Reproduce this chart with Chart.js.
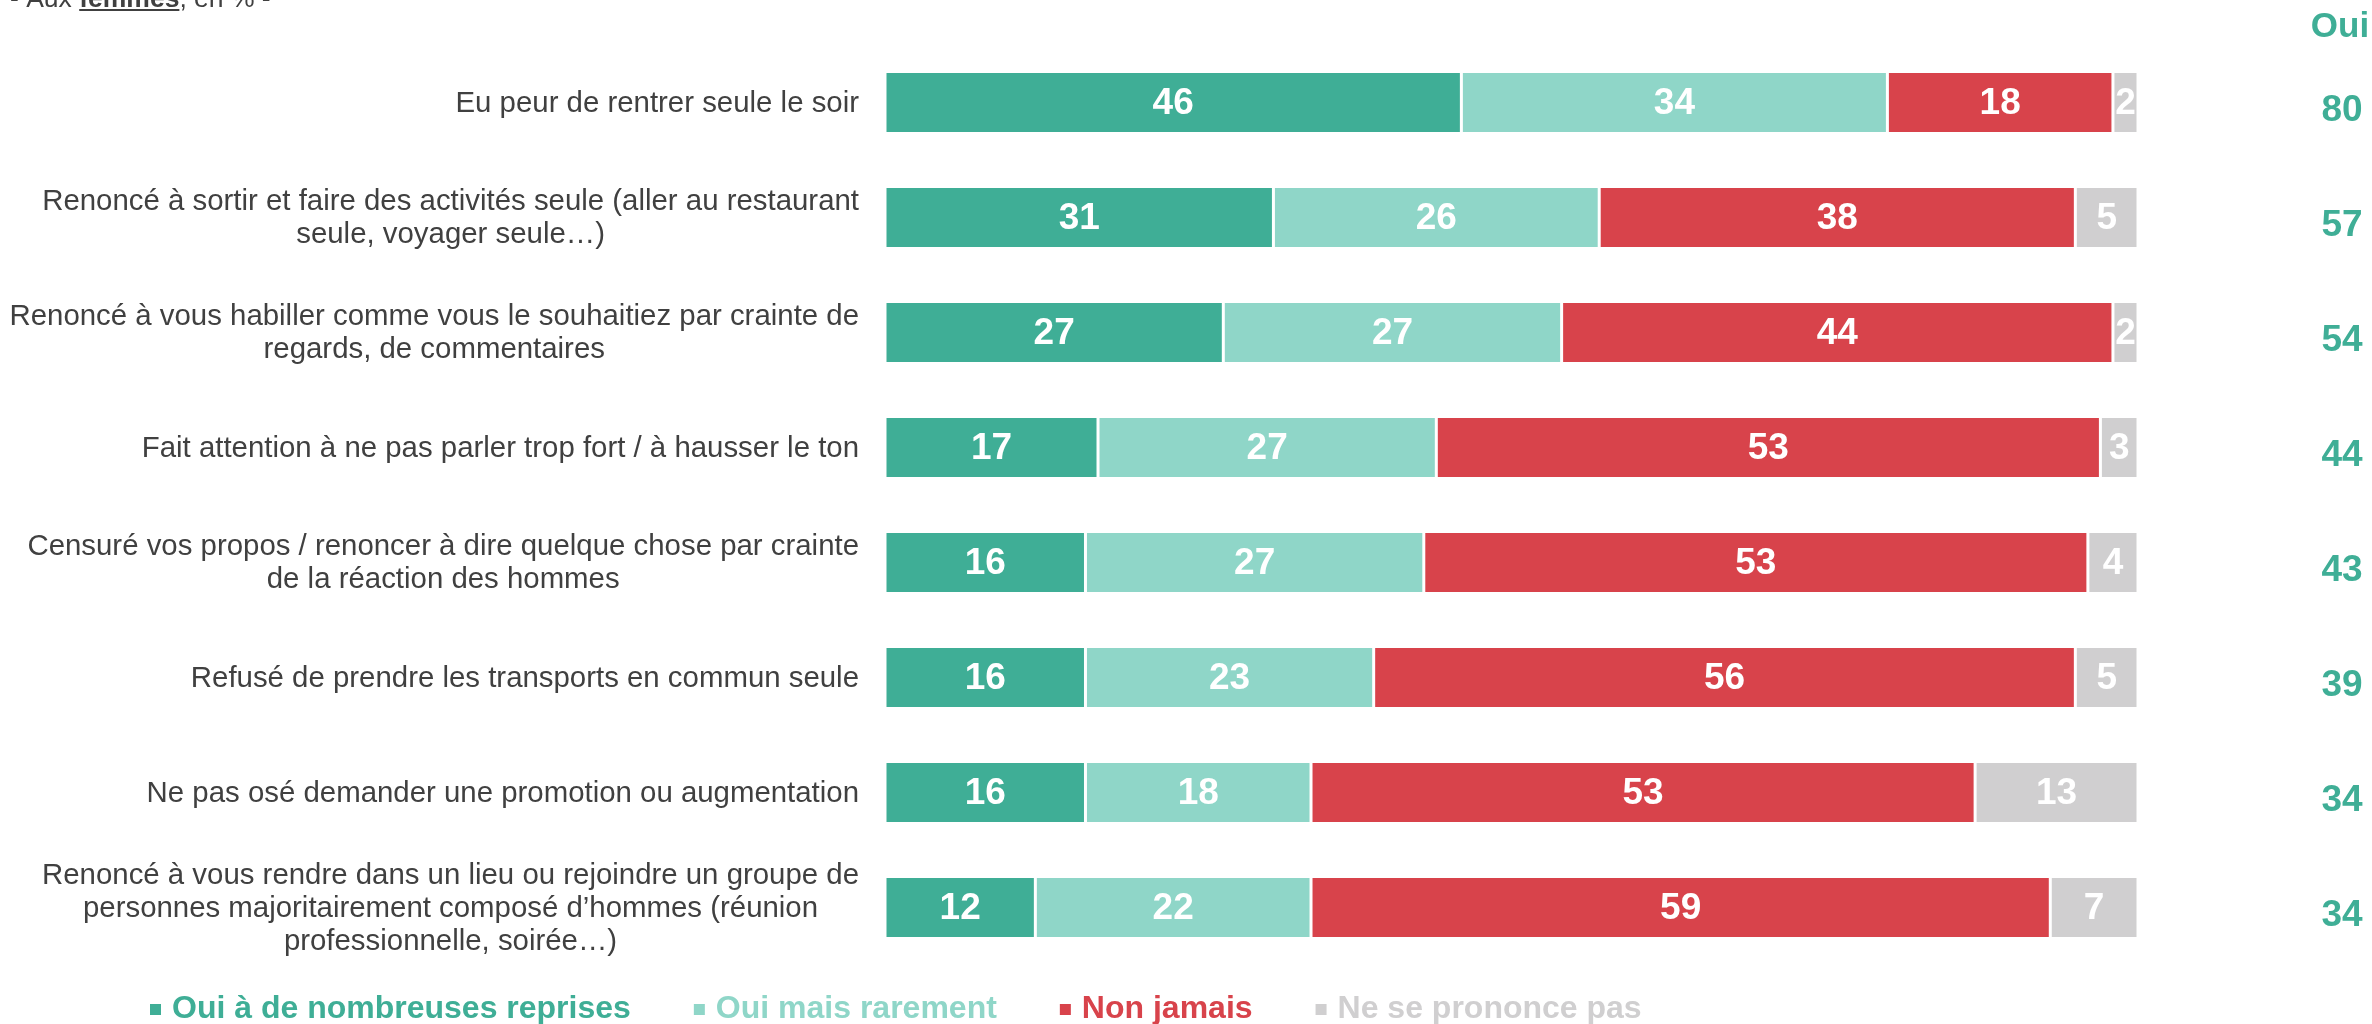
<!DOCTYPE html>
<html lang="fr">
<head>
    <meta charset="UTF-8">
    <title>Aux femmes, en %</title>
    <script src="https://cdn.jsdelivr.net/npm/chart.js"></script>
    <style>
        body {
            margin: 0;
            background: #fff;
            overflow: hidden;
        }
        canvas {
            display: block;
        }
    </style>
</head>
<body>

<canvas id="myChart" width="2372" height="1024"></canvas>

<script>
    // categories (one per line of the label)
    const categories = [
        ["Eu peur de rentrer seule le soir"],
        ["Renoncé à sortir et faire des activités seule (aller au restaurant", "seule, voyager seule…)"],
        ["Renoncé à vous habiller comme vous le souhaitiez par crainte de", "regards, de commentaires"],
        ["Fait attention à ne pas parler trop fort / à hausser le ton"],
        ["Censuré vos propos / renoncer à dire quelque chose par crainte", "de la réaction des hommes"],
        ["Refusé de prendre les transports en commun seule"],
        ["Ne pas osé demander une promotion ou augmentation"],
        ["Renoncé à vous rendre dans un lieu ou rejoindre un groupe de", "personnes majoritairement composé d’hommes (réunion", "professionnelle, soirée…)"]
    ];

    const seriesNames = ["Oui à de nombreuses reprises", "Oui mais rarement", "Non jamais", "Ne se prononce pas"];
    const seriesColors = ["#3FAE96", "#8FD6C8", "#D8434B", "#D0CFD0"];

    const ouiSouvent = [46, 31, 27, 17, 16, 16, 16, 12];
    const ouiRarement = [34, 26, 27, 27, 27, 23, 18, 22];
    const nonJamais = [18, 38, 44, 53, 53, 56, 53, 59];
    const nsp = [2, 5, 2, 3, 4, 5, 13, 7];

    const ouiTotal = [80, 57, 54, 44, 43, 39, 34, 34];

    const FONT = '"Liberation Sans", Arial, sans-serif';
    const TEXT_COLOR = '#404040';

    const seriesValues = [ouiSouvent, ouiRarement, nonJamais, nsp];

    const datasets = seriesValues.map((vals, i) => ({
        label: seriesNames[i],
        data: vals,
        backgroundColor: seriesColors[i],
        borderColor: '#ffffff',
        borderWidth: { left: 1.5, right: 1.5, top: 0, bottom: 0 },
        borderSkipped: false,
        barPercentage: 0.513,
        categoryPercentage: 1
    }));

    // labels, values in the bars, "Oui" column, title and legend
    const drawTexts = {
        id: 'drawTexts',
        afterDatasetsDraw(chart) {
            const ctx = chart.ctx;
            const yScale = chart.scales.y;
            ctx.save();

            // values inside the bars
            ctx.font = 'bold 37px ' + FONT;
            ctx.fillStyle = '#ffffff';
            ctx.textAlign = 'center';
            ctx.textBaseline = 'middle';
            chart.data.datasets.forEach((ds, di) => {
                chart.getDatasetMeta(di).data.forEach((bar, i) => {
                    const cx = (bar.x + bar.base) / 2;
                    ctx.fillText(String(ds.data[i]), cx, bar.y + 1);
                });
            });

            // category labels: block right aligned, lines centered
            ctx.font = '29.4px ' + FONT;
            ctx.fillStyle = TEXT_COLOR;
            const lineH = 33;
            const rightEdge = chart.chartArea.left - 26;
            categories.forEach((lines, i) => {
                const yc = yScale.getPixelForValue(i);
                const maxW = Math.max(...lines.map(l => ctx.measureText(l).width));
                const cx = rightEdge - maxW / 2;
                const top = yc - (lines.length - 1) * lineH / 2;
                lines.forEach((l, k) => {
                    ctx.fillText(l, cx, top + k * lineH + 1);
                });
            });

            // "Oui" column
            const ouiX = 2342;
            ctx.fillStyle = seriesColors[0];
            ctx.font = 'bold 35px ' + FONT;
            ctx.fillText('Oui', ouiX - 2, 27);
            ctx.font = 'bold 37px ' + FONT;
            ouiTotal.forEach((v, i) => {
                ctx.fillText(String(v), ouiX, yScale.getPixelForValue(i) + 8);
            });

            // title, mostly above the top edge
            ctx.textAlign = 'left';
            ctx.textBaseline = 'alphabetic';
            let x = 10;
            const ty = 7;
            ctx.fillStyle = TEXT_COLOR;
            ctx.font = '26.5px ' + FONT;
            ctx.fillText('- Aux ', x, ty);
            x += ctx.measureText('- Aux ').width;
            ctx.font = 'bold 26.5px ' + FONT;
            const fw = ctx.measureText('femmes').width;
            ctx.fillText('femmes', x, ty);
            ctx.fillRect(x, ty + 2, fw, 2);
            x += fw;
            ctx.font = '26.5px ' + FONT;
            ctx.fillText(', en % -', x, ty);

            // legend
            ctx.font = 'bold 32px ' + FONT;
            ctx.textBaseline = 'middle';
            let lx = 150;
            const ly = 1009;
            seriesNames.forEach((name, i) => {
                ctx.fillStyle = seriesColors[i];
                ctx.fillRect(lx, ly - 5, 11, 11);
                lx += 22;
                ctx.fillText(name, lx, ly);
                lx += ctx.measureText(name).width + 63;
            });

            ctx.restore();
        }
    };

    const ctx = document.getElementById('myChart').getContext('2d');

    new Chart(ctx, {
        type: 'bar',
        data: {
            labels: categories,
            datasets: datasets
        },
        options: {
            indexAxis: 'y',
            responsive: false,
            animation: false,
            devicePixelRatio: 1,
            layout: {
                padding: { left: 885, right: 234, top: 45, bottom: 59 }
            },
            scales: {
                x: {
                    stacked: true,
                    min: 0,
                    max: 100,
                    display: false
                },
                y: {
                    stacked: true,
                    display: false
                }
            },
            plugins: {
                legend: { display: false },
                tooltip: { enabled: false }
            }
        },
        plugins: [drawTexts]
    });
</script>

</body>
</html>
